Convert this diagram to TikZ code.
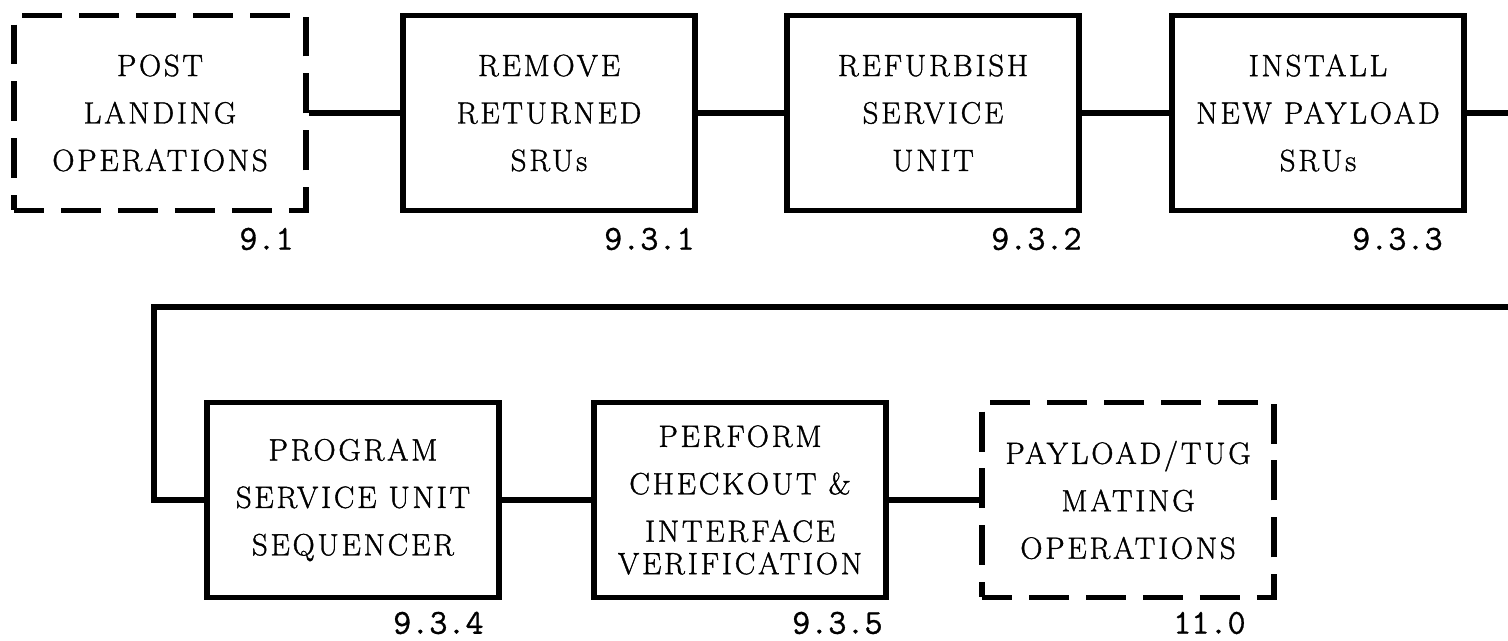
\documentclass[tikz,border=0pt]{standalone}
\usepackage{fontspec}
\newfontfamily\boxfont{Latin Modern Roman}[LetterSpace=9, FakeBold=1.2]
\setmonofont{Latin Modern Mono}[FakeBold=0.8]
\usetikzlibrary{positioning,calc}

\begin{document}
\begin{tikzpicture}[x=0.02cm, y=0.02cm,
    stepbox/.style={draw, line width=3.2pt, minimum width=5.84cm, minimum height=3.9cm,
      inner sep=0pt, align=center, font=\boxfont\fontsize{17.5}{27}\selectfont},
    extbox/.style={stepbox, dash pattern=on 0.8cm off 0.34cm, dash phase=0.2cm},
    conn/.style={line width=3.2pt},
    refnum/.style={anchor=east, inner sep=0pt, font=\ttfamily\fontsize{20}{22}\selectfont}]
        \useasboundingbox (0,0) rectangle (1508,641);
        \node[extbox] (landing) at (160,528) {POST\\LANDING\\OPERATIONS};
        \node[stepbox] (remove) at (549,528) {REMOVE\\RETURNED\\SRUs};
        \node[stepbox] (refurb) at (933,528) {REFURBISH\\SERVICE\\UNIT};
        \node[stepbox] (install) at (1318,528) {INSTALL\\NEW PAYLOAD\\SRUs};
        \node[stepbox] (program) at (353,141) {PROGRAM\\SERVICE UNIT\\SEQUENCER};
        \node[stepbox] (checkout) at (740,141) {PERFORM\\CHECKOUT \&\\INTERFACE\\[-0.3cm]VERIFICATION};
        \node[extbox] (mating) at (1128,141) {PAYLOAD/TUG\\MATING\\OPERATIONS};
        \node[refnum] (n1) at (294,402) {9.1};
        \node[refnum] (n2) at (695,402) {9.3.1};
        \node[refnum] (n3) at (1082,402) {9.3.2};
        \node[refnum] (n4) at (1443,402) {9.3.3};
        \node[refnum] (n5) at (484,18) {9.3.4};
        \node[refnum] (n6) at (883,18) {9.3.5};
        \node[refnum] (n7) at (1246,18) {11.0};
        \coordinate (outtop) at (1508,528);
        \coordinate (inlow) at (1508,334);
        \coordinate (turn) at (154,334);
        \draw[conn] (landing) -- (remove);
        \draw[conn] (remove) -- (refurb);
        \draw[conn] (refurb) -- (install);
        \draw[conn] (install) -- (outtop);
        \draw[conn] (inlow) -- (turn) |- (program.west);
        \draw[conn] (program) -- (checkout);
        \draw[conn] (checkout) -- (mating);
      \end{tikzpicture}
\end{document}
